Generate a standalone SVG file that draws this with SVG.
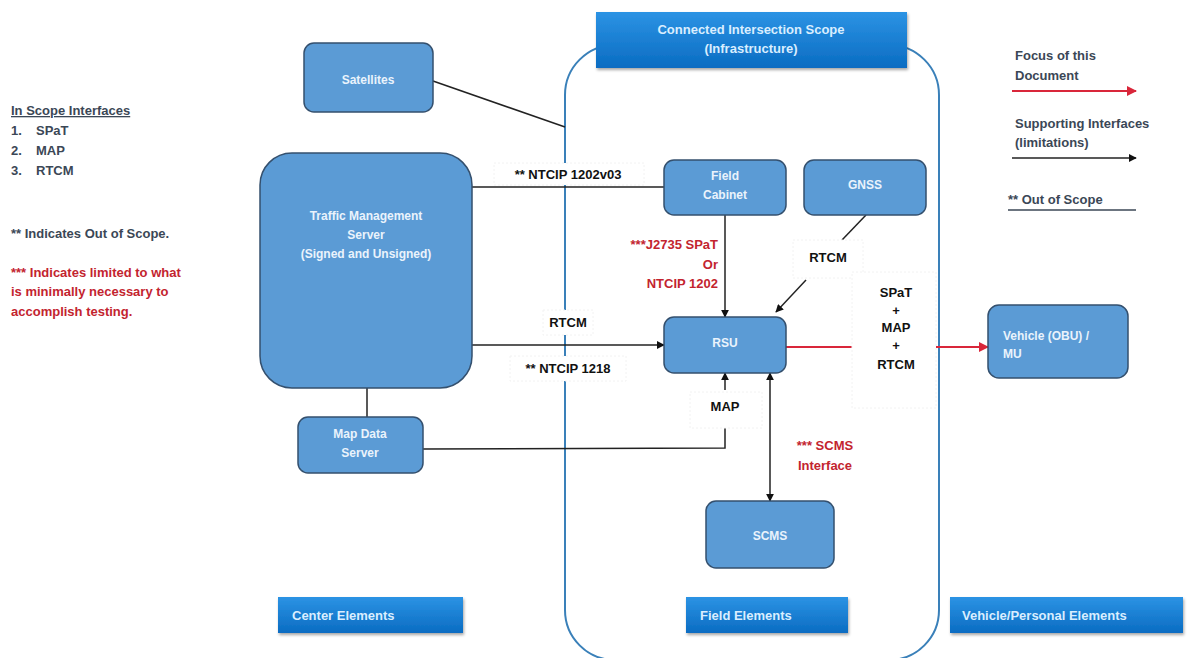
<svg xmlns="http://www.w3.org/2000/svg" width="1187" height="658" viewBox="0 0 1187 658">
  <defs>
    <linearGradient id="hdrGrad" x1="0" y1="0" x2="0" y2="1">
      <stop offset="0" stop-color="#2c93e4"/>
      <stop offset="1" stop-color="#0a6cc2"/>
    </linearGradient>
    <filter id="shadow" x="-10%" y="-20%" width="130%" height="160%">
      <feDropShadow dx="1" dy="2" stdDeviation="1.5" flood-color="#000" flood-opacity="0.35"/>
    </filter>
    <marker id="arrowBlack" viewBox="0 0 10 10" refX="9" refY="5" markerWidth="8" markerHeight="8" markerUnits="userSpaceOnUse" orient="auto-start-reverse">
      <path d="M0,0 L10,5 L0,10 z" fill="#111"/>
    </marker>
    <marker id="arrowRed" viewBox="0 0 10 10" refX="9" refY="5" markerWidth="10" markerHeight="10" markerUnits="userSpaceOnUse" orient="auto">
      <path d="M0,0 L10,5 L0,10 z" fill="#d9263a"/>
    </marker>
  </defs>
  <style>
    text { font-family: "Liberation Sans", Arial, sans-serif; font-weight: bold; }
    .node rect { fill: #5b9bd5; stroke: #34506e; stroke-width: 1.5; }
    .node text { fill: #eaf3fc; font-size: 12px; text-anchor: middle; }
    .node text.left { text-anchor: start; }
    .hdr rect { fill: url(#hdrGrad); filter: url(#shadow); }
    .hdr text { fill: #d9eeff; font-size: 13px; }
    .wire { fill: none; stroke: #222; stroke-width: 1.5; }
    .wire-red { fill: none; stroke: #d9263a; stroke-width: 1.8; }
    .lbl { font-size: 13px; fill: #111; text-anchor: middle; }
    .lbl-red { font-size: 13px; fill: #c3242f; }
    .lblbox { fill: #fff; stroke: #f2f2f2; stroke-width: 1; stroke-dasharray: 2 2; }
    .legend { font-size: 13px; fill: #3b4756; }
    .legend-red { font-size: 13px; fill: #c3242f; }
  </style>

  <rect width="1187" height="658" fill="#fff"/>

  <!-- scope boundary -->
  <rect id="scope" x="565" y="45" width="374" height="615" rx="50" ry="50" fill="none" stroke="#3a80b9" stroke-width="2"/>

  <!-- left legend -->
  <g id="legend-left">
    <text class="legend" x="11" y="115" text-decoration="underline">In Scope Interfaces</text>
    <text class="legend" x="11" y="135">1.</text><text class="legend" x="36" y="135">SPaT</text>
    <text class="legend" x="11" y="155">2.</text><text class="legend" x="36" y="155">MAP</text>
    <text class="legend" x="11" y="175">3.</text><text class="legend" x="36" y="175">RTCM</text>
    <text class="legend" x="11" y="238">** Indicates Out of Scope.</text>
    <text class="legend-red" x="11" y="277">*** Indicates limited to what</text>
    <text class="legend-red" x="11" y="296">is minimally necessary to</text>
    <text class="legend-red" x="11" y="316">accomplish testing.</text>
  </g>

  <!-- right legend -->
  <g id="legend-right">
    <text class="legend" x="1015" y="60">Focus of this</text>
    <text class="legend" x="1015" y="80">Document</text>
    <line class="wire-red" x1="1012" y1="91" x2="1136" y2="91" marker-end="url(#arrowRed)"/>
    <text class="legend" x="1015" y="128">Supporting Interfaces</text>
    <text class="legend" x="1015" y="147">(limitations)</text>
    <line class="wire" x1="1012" y1="158" x2="1136" y2="158" stroke-width="2" marker-end="url(#arrowBlack)"/>
    <text class="legend" x="1008" y="204">** Out of Scope</text>
    <line x1="1008" y1="210" x2="1136" y2="210" stroke="#3b4756" stroke-width="1.5"/>
  </g>

  <!-- connectors -->
  <g id="connectors">
    <line class="wire" x1="433" y1="81" x2="565" y2="127" stroke-width="1.2"/>
    <line class="wire" x1="472" y1="187" x2="664" y2="187" stroke-width="1.2"/>
    <line class="wire" x1="472" y1="345" x2="664" y2="345" marker-end="url(#arrowBlack)"/>
    <line class="wire" x1="367" y1="388" x2="367" y2="417" stroke-width="2"/>
    <polyline class="wire" points="423,449 725,448 725,428" stroke-width="1.2"/>
    <line class="wire" x1="725" y1="390" x2="725" y2="373" marker-end="url(#arrowBlack)"/>
    <line class="wire" x1="725" y1="215" x2="725" y2="317" marker-end="url(#arrowBlack)"/>
    <line class="wire" x1="866" y1="215" x2="842" y2="240" stroke-width="1.2"/>
    <line class="wire" x1="806" y1="280" x2="776" y2="312" stroke-width="1.2" marker-end="url(#arrowBlack)"/>
    <line class="wire" x1="770" y1="373" x2="770" y2="501" marker-start="url(#arrowBlack)" marker-end="url(#arrowBlack)"/>
    <line class="wire-red" x1="786" y1="347" x2="852" y2="347"/>
    <line class="wire-red" x1="935" y1="347" x2="988" y2="347" marker-end="url(#arrowRed)"/>

    <!-- connector labels -->
    <rect class="lblbox" x="494" y="163" width="150" height="22"/>
    <text class="lbl" x="568" y="179">** NTCIP 1202v03</text>
    <rect class="lblbox" x="543" y="310" width="50" height="25"/>
    <text class="lbl" x="568" y="327">RTCM</text>
    <rect class="lblbox" x="510" y="356" width="116" height="25"/>
    <text class="lbl" x="568" y="373">** NTCIP 1218</text>
    <text class="lbl-red" x="718" y="249" text-anchor="end">***J2735 SPaT</text>
    <text class="lbl-red" x="718" y="269" text-anchor="end">Or</text>
    <text class="lbl-red" x="718" y="288" text-anchor="end">NTCIP 1202</text>
    <rect class="lblbox" x="793" y="240" width="70" height="38"/>
    <text class="lbl" x="828" y="262">RTCM</text>
    <rect class="lblbox" x="690" y="392" width="72" height="36"/>
    <text class="lbl" x="725" y="411">MAP</text>
    <rect class="lblbox" x="852" y="272" width="84" height="136"/>
    <text class="lbl" x="896" y="297">SPaT</text>
    <text class="lbl" x="896" y="315">+</text>
    <text class="lbl" x="896" y="332">MAP</text>
    <text class="lbl" x="896" y="350">+</text>
    <text class="lbl" x="896" y="369">RTCM</text>
    <text class="lbl-red" x="825" y="450" text-anchor="middle">*** SCMS</text>
    <text class="lbl-red" x="825" y="470" text-anchor="middle">Interface</text>
  </g>

  <!-- nodes -->
  <g id="node-satellites" class="node">
    <rect x="304" y="43" width="129" height="69" rx="10"/>
    <text x="368" y="84" font-size="11">Satellites</text>
  </g>
  <g id="node-tms" class="node">
    <rect x="260" y="153" width="212" height="235" rx="32"/>
    <text x="366" y="220" font-size="13">Traffic Management</text>
    <text x="366" y="239" font-size="13">Server</text>
    <text x="366" y="258" font-size="13">(Signed and Unsigned)</text>
  </g>
  <g id="node-mapdata" class="node">
    <rect x="298" y="417" width="125" height="56" rx="10"/>
    <text x="360" y="438">Map Data</text>
    <text x="360" y="457">Server</text>
  </g>
  <g id="node-cabinet" class="node">
    <rect x="664" y="160" width="122" height="55" rx="10"/>
    <text x="725" y="180">Field</text>
    <text x="725" y="199">Cabinet</text>
  </g>
  <g id="node-gnss" class="node">
    <rect x="804" y="160" width="122" height="55" rx="10"/>
    <text x="865" y="189">GNSS</text>
  </g>
  <g id="node-rsu" class="node">
    <rect x="664" y="317" width="122" height="56" rx="10"/>
    <text x="725" y="347">RSU</text>
  </g>
  <g id="node-scms" class="node">
    <rect x="706" y="501" width="128" height="67" rx="10"/>
    <text x="770" y="540" font-size="11">SCMS</text>
  </g>
  <g id="node-vehicle" class="node">
    <rect x="988" y="305" width="140" height="73" rx="11"/>
    <text class="left" x="1003" y="340" font-size="11">Vehicle  (OBU) /</text>
    <text class="left" x="1003" y="358" font-size="11">MU</text>
  </g>

  <!-- section headers -->
  <g id="hdr-scope" class="hdr">
    <rect x="596" y="12" width="311" height="56"/>
    <text x="751" y="34" text-anchor="middle">Connected Intersection Scope</text>
    <text x="751" y="53" text-anchor="middle">(Infrastructure)</text>
  </g>
  <g id="hdr-center" class="hdr">
    <rect x="278" y="597" width="185" height="36"/>
    <text x="292" y="620">Center Elements</text>
  </g>
  <g id="hdr-field" class="hdr">
    <rect x="686" y="597" width="162" height="36"/>
    <text x="700" y="620">Field Elements</text>
  </g>
  <g id="hdr-vehicle" class="hdr">
    <rect x="950" y="597" width="233" height="36"/>
    <text x="962" y="620">Vehicle/Personal Elements</text>
  </g>
</svg>
